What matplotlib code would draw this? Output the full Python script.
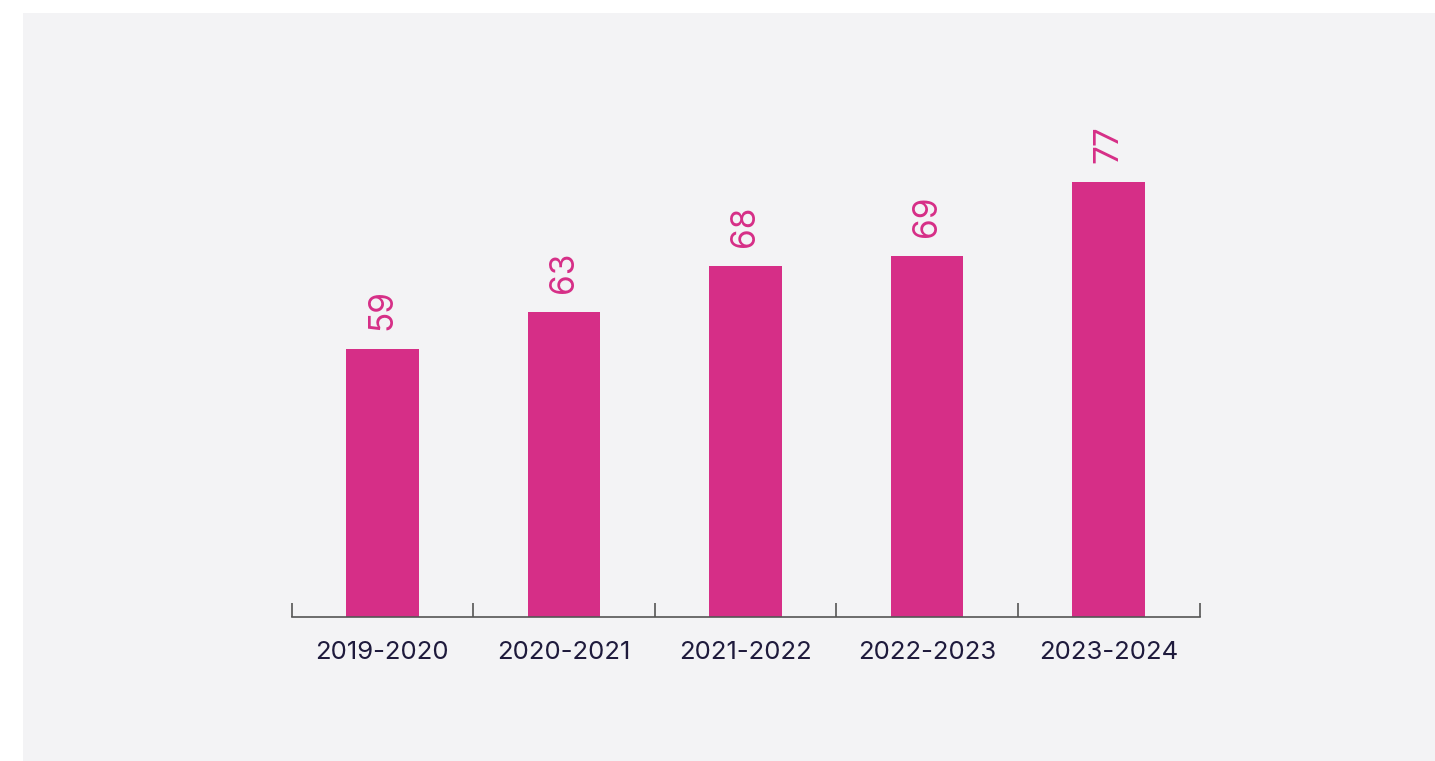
import matplotlib
matplotlib.use("Agg")
import matplotlib.pyplot as plt
from matplotlib.patches import Rectangle
import numpy as np

categories = ["2019-2020", "2020-2021", "2021-2022", "2022-2023", "2023-2024"]
values = [59, 63, 68, 69, 77]

BAR = "#d62e87"
BG = "#f3f3f5"
TXT = "#1e1a3c"

W, H = 1435, 761
fig = plt.figure(figsize=(W / 100, H / 100), dpi=100, facecolor="white")
fig.patches.append(Rectangle((23 / W, 0), 1 - 23 / W, (H - 13) / H,
                             transform=fig.transFigure, facecolor=BG,
                             edgecolor="none", zorder=-10))

left, right = 291.5 / W, 1199.5 / W
bottom = (H - 617) / H
top = (H - 100) / H
ax = fig.add_axes([left, bottom, right - left, top - bottom])
ax.set_facecolor("none")
ax.set_zorder(5)

x = np.arange(len(categories))
ax.bar(x, values, width=0.40, bottom=0, color=BAR, zorder=2)
ymin = 30.1
ax.set_ylim(ymin, ymin + 517 / 9.27)
ax.set_xlim(-0.5, len(categories) - 0.5)

for xi, v in zip(x, values):
    ax.annotate(str(v), (xi, v), xytext=(0, 19), textcoords="offset pixels",
                rotation=90, ha="center", va="bottom", color=BAR,
                fontsize=24, family="Inter")

for s in ["left", "right", "top"]:
    ax.spines[s].set_visible(False)
ax.spines["bottom"].set_color("#555555")
ax.spines["bottom"].set_linewidth(1.2)
ax.set_yticks([])
ax.set_xticks(x)
ax.set_xticklabels(categories, fontsize=18.5, color=TXT, family="Inter")
ax.tick_params(axis="x", which="major", length=0, pad=17)
ax.set_xticks(np.arange(-0.5, len(categories), 1.0), minor=True)
ax.tick_params(axis="x", which="minor", direction="in", length=10,
               width=1.2, color="#555555")

fig.savefig("out.png", dpi=100, facecolor="white")
